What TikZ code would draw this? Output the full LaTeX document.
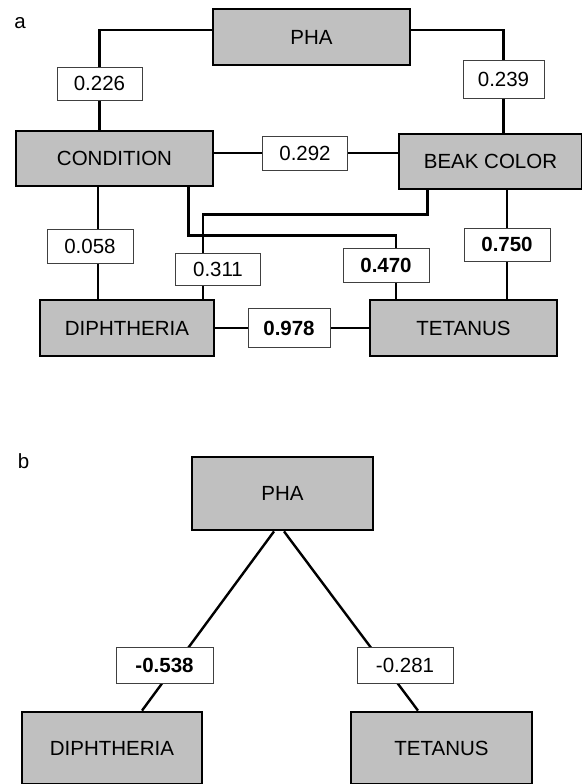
\documentclass[tikz,border=0pt]{standalone}
\usepackage{fontspec}
\setmainfont{Liberation Sans}
\usepackage{xcolor}
\usepackage{tikz}
\usetikzlibrary{positioning, backgrounds}
\definecolor{boxgray}{RGB}{192,192,192}

\begin{document}
\begin{tikzpicture}[x=1pt, y=-1pt,
    varbox/.style={draw, rectangle, line width=2.8pt, fill=boxgray, inner sep=0pt, font=\fontsize{20.5}{24}\selectfont},
    numbox/.style={draw=black!75, rectangle, line width=0.9pt, fill=white, inner sep=0pt, minimum width=85pt, minimum height=34pt, font=\fontsize{20.5}{24}\selectfont},
    link/.style={line width=2.4pt}]
      \useasboundingbox (0, 0) rectangle (581, 784);

      % Panel a: variables
      \node[font=\fontsize{20.5}{24}\selectfont] (labA) at (20, 23) {a};
      \node[varbox, minimum width=197pt, minimum height=56pt] (phaA) at (311.5, 37) {PHA};
      \node[varbox, minimum width=197pt, minimum height=55pt] (cond) at (114.5, 158.5) {CONDITION};
      \node[varbox, minimum width=183pt, minimum height=55pt] (beak) at (490.5, 161.5) {BEAK COLOR};
      \node[varbox, minimum width=174pt, minimum height=56pt] (diphA) at (127, 328) {DIPHTHERIA};
      \node[varbox, minimum width=187pt, minimum height=56pt] (tetA) at (463.5, 328) {TETANUS};

      % Panel a: path coefficients
      \node[numbox, minimum height=33pt] (c226) at (99.5, 83.5) {0.226};
      \node[numbox, minimum width=81pt, minimum height=38pt] (c239) at (503.5, 79) {0.239};
      \node[numbox] (c292) at (305, 153) {0.292};
      \node[numbox, minimum width=86pt] (c058) at (90, 246) {0.058};
      \node[numbox, minimum height=32pt] (c311) at (218, 269) {0.311};
      \node[numbox, minimum width=86pt] (c470) at (386, 265) {\textbf{0.470}};
      \node[numbox, minimum width=86pt, minimum height=33pt] (c750) at (507, 244.5) {\textbf{0.750}};
      \node[numbox, minimum width=82pt, minimum height=39pt] (c978) at (289, 328) {\textbf{0.978}};

      % Panel b
      \node[font=\fontsize{20.5}{24}\selectfont] (labB) at (23.5, 461.5) {b};
      \node[varbox, minimum width=181pt, minimum height=73pt] (phaB) at (282.5, 493.5) {PHA};
      \node[varbox, minimum width=180pt, minimum height=72pt] (diphB) at (112, 748) {DIPHTHERIA};
      \node[varbox, minimum width=181pt, minimum height=72pt] (tetB) at (441.5, 748) {TETANUS};
      \node[numbox, minimum width=97pt, minimum height=36pt] (n538) at (164.5, 665) {\textbf{-0.538}};
      \node[numbox, minimum width=96pt, minimum height=36pt] (n281) at (405, 665) {-0.281};

      % Connectors
      \begin{scope}[on background layer]
        \draw[link] ([yshift=7pt]phaA.west) -| (c226.north);
        \draw[link] (c226.south) -- (c226.south |- cond.north);
        \draw[link] ([yshift=7pt]phaA.east) -| (c239.north);
        \draw[link] (c239.south) -- (c239.south |- beak.north);
        \draw[link] (c292.west -| cond.east) -- (c292.west);
        \draw[link] (c292.east) -- (c292.east -| beak.west);
        \draw[link] ([xshift=8pt]c058.north |- cond.south) -- ([xshift=8pt]c058.north);
        \draw[link] ([xshift=8pt]c058.south) -- ([xshift=8pt]c058.south |- diphA.north);
        \draw[link] ([xshift=-26pt]cond.south east) -- ++(0, 48) -| ([xshift=10pt]c470.north);
        \draw[link] ([xshift=10pt]c470.south) -- ([xshift=10pt]c470.south |- tetA.north);
        \draw[link] ([xshift=30pt]beak.south west) -- ++(0, 24) -| ([xshift=-15pt]c311.north);
        \draw[link] ([xshift=-15pt]c311.south) -- ([xshift=-15pt]c311.south |- diphA.north);
        \draw[link] (c750.north |- beak.south) -- (c750.north);
        \draw[link] (c750.south) -- (c750.south |- tetA.north);
        \draw[link] (diphA.east) -- (c978.west);
        \draw[link] (c978.east) -- (tetA.west);
        \draw[link] ([xshift=-8.5pt]phaB.south) -- ([xshift=30pt]diphB.north);
        \draw[link] ([xshift=1.5pt]phaB.south) -- ([xshift=-23.5pt]tetB.north);
      \end{scope}
    \end{tikzpicture}
\end{document}
